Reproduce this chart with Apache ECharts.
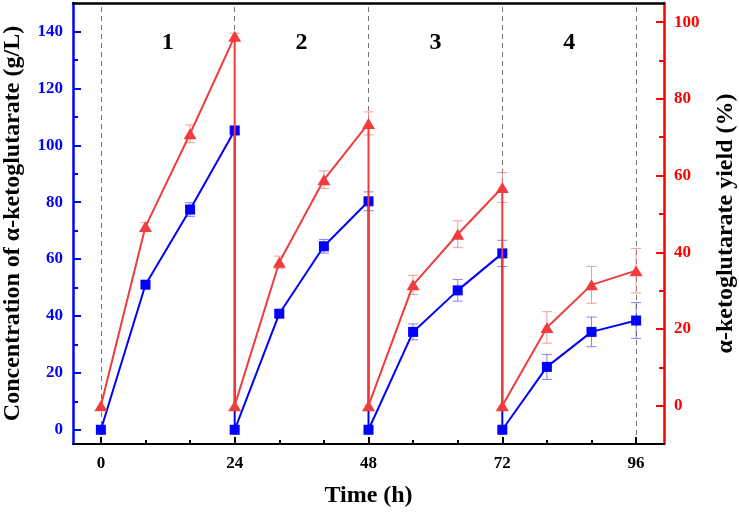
<!DOCTYPE html>
<html>
<head>
<meta charset="utf-8">
<script src="https://cdn.jsdelivr.net/npm/echarts@6/dist/echarts.min.js"></script>
<style>html,body{margin:0;padding:0;background:#fff;}#chart{width:739px;height:513px;}</style>
</head>
<body>
<div id="chart"></div>
<script>
// ---- data ----
const timeH = [0, 8, 16, 24, 24, 32, 40, 48, 48, 56, 64, 72, 72, 80, 88, 96];
const akgConc = [0, 51, 77.4, 105.2, 0, 40.8, 64.5, 80.3, 0, 34.4, 49, 62, 0, 22.1, 34.4, 38.4];
const akgConcErr = [0, 1, 2.4, 1, 0, 1, 2.4, 3.3, 0, 2.8, 3.8, 4.6, 0, 4.4, 5.2, 6.3];
const akgYield = [0, 46.7, 70.9, 96.3, 0, 37.4, 58.9, 73.6, 0, 31.5, 44.7, 56.9, 0, 20.4, 31.5, 35.2];
const akgYieldErr = [0, 1, 2.3, 0.8, 0, 1.6, 2.3, 3, 0, 2.5, 3.5, 3.9, 0, 4.1, 4.8, 5.8];
const xTicks = [0, 24, 48, 72, 96];
const xMinorTicks = [8, 16, 32, 40, 56, 64, 80, 88];
const leftTicks = [0, 20, 40, 60, 80, 100, 120, 140];
const leftMinorTicks = [10, 30, 50, 70, 90, 110, 130];
const rightTicks = [0, 20, 40, 60, 80, 100];
const rightMinorTicks = [10, 30, 50, 70, 90];
const cycleNames = ['1', '2', '3', '4'];
const cycleX = [12, 36, 60, 84];
const cycleY = [136, 136, 136, 136];

const BLUE = '#0000ff';
const RED = '#f03c3c';
const SERIF = '"Liberation Serif", "Times New Roman", serif';

function errData(vals, errs) {
  return timeH.map((t, i) => [t, vals[i] - errs[i], vals[i] + errs[i]]);
}
function errRender(color) {
  return function (params, api) {
    const x = api.value(0), lo = api.value(1), hi = api.value(2);
    if (hi - lo <= 0) return null;
    const p1 = api.coord([x, hi]);
    const p2 = api.coord([x, lo]);
    const w = 5;
    const st = { stroke: color, lineWidth: 1 };
    return {
      type: 'group',
      children: [
        { type: 'line', shape: { x1: p1[0], y1: p1[1], x2: p2[0], y2: p2[1] }, style: st },
        { type: 'line', shape: { x1: p1[0] - w, y1: p1[1], x2: p1[0] + w, y2: p1[1] }, style: st },
        { type: 'line', shape: { x1: p2[0] - w, y1: p2[1], x2: p2[0] + w, y2: p2[1] }, style: st }
      ]
    };
  };
}
function textRender(params, api) {
  const p = api.coord([api.value(0), api.value(1)]);
  return {
    type: 'text', x: p[0], y: p[1],
    style: {
      text: cycleNames[params.dataIndex], fill: '#000',
      font: 'bold 24px ' + SERIF, align: 'center', verticalAlign: 'middle'
    }
  };
}

const chart = echarts.init(document.getElementById('chart'), null, { renderer: 'canvas' });
const minorAxisBase = {
  axisLabel: { show: false },
  splitLine: { show: false }
};

chart.setOption({
  animation: false,
  backgroundColor: '#fff',
  grid: { left: 73, right: 75, top: 3, bottom: 69, outerBoundsMode: 'none' },
  xAxis: [
    {
      type: 'value', min: -5, max: 101, position: 'bottom',
      name: 'Time (h)', nameLocation: 'middle', nameGap: 40,
      nameTextStyle: { fontFamily: SERIF, fontWeight: 'bold', fontSize: 24, color: '#000' },
      axisLine: { onZero: false, lineStyle: { color: '#000', width: 2 } },
      axisTick: { inside: true, length: 7, customValues: xTicks, lineStyle: { color: '#000', width: 2 } },
      axisLabel: { customValues: xTicks, margin: 11, fontFamily: SERIF, fontWeight: 'bold', fontSize: 17, color: '#000' },
      splitLine: { show: false }
    },
    Object.assign({
      type: 'value', min: -5, max: 101, position: 'bottom', offset: 0,
      axisLine: { show: false, onZero: false },
      axisTick: { inside: true, length: 4, customValues: xMinorTicks, lineStyle: { color: '#000', width: 2 } }
    }, minorAxisBase),
    {
      type: 'value', min: -5, max: 101, position: 'top',
      axisLine: { onZero: false, lineStyle: { color: '#000', width: 2.5 } },
      axisTick: { show: false }, axisLabel: { show: false }, splitLine: { show: false }
    }
  ],
  yAxis: [
    {
      type: 'value', min: -5, max: 150, position: 'left',
      name: 'Concentration of α-ketoglutarate (g/L)', nameLocation: 'middle', nameGap: 48, nameRotate: 90,
      nameTextStyle: { fontFamily: SERIF, fontWeight: 'bold', fontSize: 24, color: '#000' },
      axisLine: { onZero: false, lineStyle: { color: BLUE, width: 2.5 } },
      axisTick: { inside: true, length: 8, customValues: leftTicks, lineStyle: { color: BLUE, width: 2 } },
      axisLabel: { customValues: leftTicks, margin: 10, fontFamily: SERIF, fontWeight: 'bold', fontSize: 17, color: BLUE },
      splitLine: { show: false }
    },
    {
      type: 'value', min: -10, max: 105, position: 'right',
      name: 'α-ketoglutarate yield (%)', nameLocation: 'middle', nameGap: 50, nameRotate: 90,
      nameTextStyle: { fontFamily: SERIF, fontWeight: 'bold', fontSize: 24, color: '#000' },
      axisLine: { onZero: false, lineStyle: { color: '#ff0000', width: 2.5 } },
      axisTick: { inside: true, length: 8, customValues: rightTicks, lineStyle: { color: '#ff0000', width: 2 } },
      axisLabel: { customValues: rightTicks, margin: 10, fontFamily: SERIF, fontWeight: 'bold', fontSize: 17, color: '#ff0000' },
      splitLine: { show: false }
    },
    Object.assign({
      type: 'value', min: -5, max: 150, position: 'left', offset: 0,
      axisLine: { show: false, onZero: false },
      axisTick: { inside: true, length: 5, customValues: leftMinorTicks, lineStyle: { color: BLUE, width: 2 } }
    }, minorAxisBase),
    Object.assign({
      type: 'value', min: -10, max: 105, position: 'right', offset: 0,
      axisLine: { show: false, onZero: false },
      axisTick: { inside: true, length: 5, customValues: rightMinorTicks, lineStyle: { color: '#ff0000', width: 2 } }
    }, minorAxisBase)
  ],
  series: [
    {
      type: 'custom', name: 'concErr', xAxisIndex: 0, yAxisIndex: 0, z: 1,
      renderItem: errRender('rgba(90,90,255,0.75)'),
      encode: { x: 0, y: [1, 2] },
      data: errData(akgConc, akgConcErr), silent: true
    },
    {
      type: 'custom', name: 'yieldErr', xAxisIndex: 0, yAxisIndex: 1, z: 1,
      renderItem: errRender('rgba(245,120,120,0.75)'),
      encode: { x: 0, y: [1, 2] },
      data: errData(akgYield, akgYieldErr), silent: true
    },
    {
      type: 'line', name: 'Concentration', xAxisIndex: 0, yAxisIndex: 0, z: 3,
      data: timeH.map((t, i) => [t, akgConc[i]]),
      symbol: 'rect', symbolSize: 10, showAllSymbol: true,
      itemStyle: { color: BLUE },
      lineStyle: { color: BLUE, width: 2 },
      markLine: {
        silent: true, symbol: 'none', label: { show: false }, z: 0,
        lineStyle: { color: '#777', type: [5, 4], width: 1 },
        data: xTicks.map(v => ({ xAxis: v }))
      }
    },
    {
      type: 'line', name: 'Yield', xAxisIndex: 0, yAxisIndex: 1, z: 4,
      data: timeH.map((t, i) => [t, akgYield[i]]),
      symbol: 'triangle', symbolSize: [13, 11], showAllSymbol: true,
      itemStyle: { color: RED },
      lineStyle: { color: RED, width: 2 }
    },
    {
      type: 'custom', name: 'cycles', xAxisIndex: 0, yAxisIndex: 0, z: 5, silent: true,
      renderItem: textRender,
      encode: { x: 0, y: 1 },
      data: cycleX.map((x, i) => [x, cycleY[i]])
    }
  ]
});
</script>
</body>
</html>
